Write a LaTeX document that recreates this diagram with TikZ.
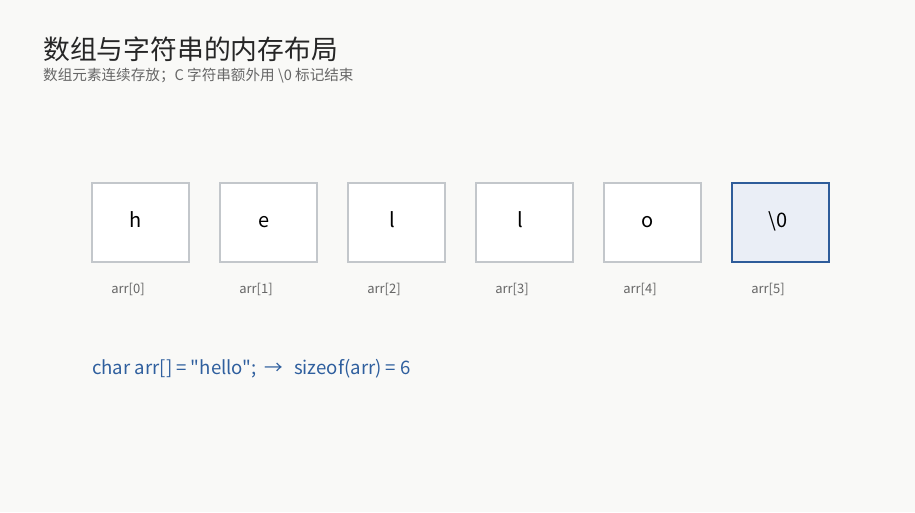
\documentclass[tikz,border=0pt]{standalone}
\usepackage{fontspec}
\setmainfont{Noto Sans CJK SC}
\newfontfamily\codefont{Noto Sans CJK SC}[Ligatures=TeXOff]
\usetikzlibrary{positioning}
\definecolor{bgcol}{HTML}{F9F9F7}
\definecolor{cellgray}{HTML}{C3C7CB}
\definecolor{nullblue}{HTML}{2E5C9A}
\definecolor{nullfill}{HTML}{EAEEF6}
\definecolor{codeblue}{HTML}{2F5F9E}
\definecolor{subgray}{HTML}{666666}

\begin{document}
\begin{tikzpicture}[x=1pt, y=-1pt,
    cell/.style={draw=cellgray, fill=white, line width=1.3pt, minimum width=97pt,
                 minimum height=79pt, inner sep=0pt},
    nullcell/.style={draw=nullblue, fill=nullfill},
    glyph/.style={anchor=base, inner sep=0pt, font=\fontsize{20}{20}\selectfont},
    idx/.style={text=subgray, font=\fontsize{13}{13}\selectfont}]
    \fill[bgcol] (0, 0) rectangle (915, 512);
    \useasboundingbox (0, 0) rectangle (915, 512);
    \node[anchor=west, inner sep=0pt, text=black!85, font=\fontsize{26.8}{27}\selectfont] (title) at (43, 49) {数组与字符串的内存布局};
    \node[anchor=west, inner sep=0pt, text=subgray, font=\fontsize{14.6}{15}\selectfont] (sub) at (43, 75.5) {数组元素连续存放；C 字符串额外用 \textbackslash0 标记结束};
    \foreach \ch [count=\i from 0] in {h, e, l, l, o} {
        \node[cell] (c\i) at (140.5 + 128 * \i, 222.5) {};
        \node[glyph] (t\i) at (136 + 128 * \i, 227) {\ch};
        \node[idx] (a\i) at (128 + 128 * \i, 289) {arr[\i]};
    }
    \node[cell, nullcell] (c5) at (780.5, 222.5) {};
    \node[glyph] (t5) at (778, 227) {\textbackslash0};
    \node[idx] (a5) at (768, 289) {arr[5]};
    \node[anchor=west, inner sep=0pt, text=codeblue, font=\codefont\fontsize{18.6}{19}\selectfont] (code) at (92, 369) {char arr[] = "hello";\hspace{8pt}→\hspace{11pt}sizeof(arr) = 6};
\end{tikzpicture}
\end{document}
